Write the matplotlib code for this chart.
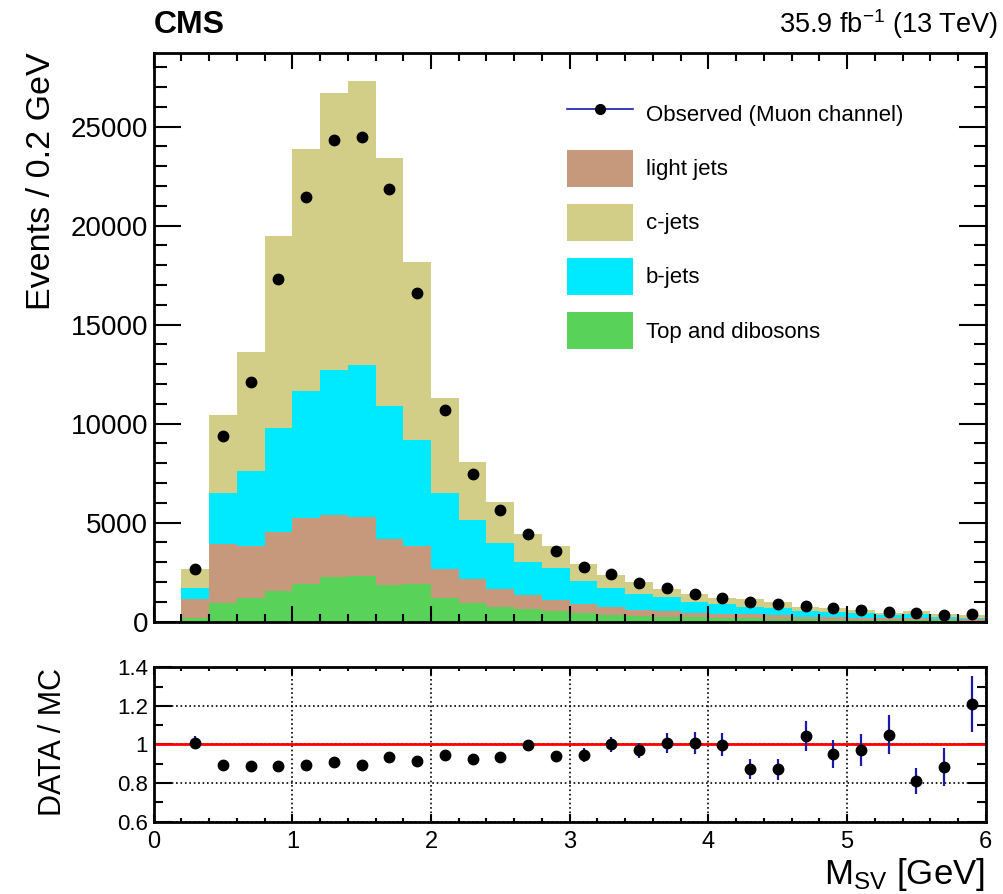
import numpy as np
import matplotlib
matplotlib.use("Agg")
import matplotlib.pyplot as plt
from matplotlib.ticker import MultipleLocator, FuncFormatter
from matplotlib.patches import Patch
from matplotlib.lines import Line2D

plt.rcParams['font.family'] = ['Liberation Sans', 'DejaVu Sans']
plt.rcParams['mathtext.fontset'] = 'custom'
plt.rcParams['mathtext.rm'] = 'Liberation Sans'
plt.rcParams['mathtext.it'] = 'Liberation Sans:italic'

# bin edges of M_SV [GeV]
edges = [0.2, 0.4, 0.6, 0.8, 1.0, 1.2, 1.4, 1.6, 1.8, 2.0, 2.2, 2.4, 2.6, 2.8, 3.0,
         3.2, 3.4, 3.6, 3.8, 4.0, 4.2, 4.4, 4.6, 4.8, 5.0, 5.2, 5.4, 5.6, 5.8, 6.0]
centers = [0.3, 0.5, 0.7, 0.9, 1.1, 1.3, 1.5, 1.7, 1.9, 2.1, 2.3, 2.5, 2.7, 2.9, 3.1,
           3.3, 3.5, 3.7, 3.9, 4.1, 4.3, 4.5, 4.7, 4.9, 5.1, 5.3, 5.5, 5.7, 5.9]

# stacked MC components (events / 0.2 GeV), bottom to top
top_dibosons = [202, 929, 1197, 1550, 1904, 2241, 2308, 1853, 1887, 1197, 944, 757, 641, 540,
                421, 337, 286, 252, 219, 185, 168, 151, 118, 101, 84, 84, 67, 67, 50]
light_jets = [929, 3011, 2609, 2995, 3348, 3147, 2979, 2308, 1919, 1449, 1197, 894, 707, 556,
              488, 387, 303, 270, 235, 219, 202, 186, 134, 135, 101, 84, 101, 68, 68]
b_jets = [556, 2575, 3804, 5220, 6398, 7307, 7661, 6747, 5354, 3853, 2995, 2339, 1682, 1631,
          1127, 976, 808, 707, 539, 471, 370, 353, 270, 235, 236, 169, 202, 117, 67]
c_jets = [959, 3923, 6025, 9713, 12221, 14020, 14342, 12494, 9020, 4781, 2944, 2040, 1414, 1079,
          876, 656, 589, 437, 387, 337, 388, 320, 235, 236, 168, 117, 152, 118, 135]

observed = [2661, 9378, 12105, 17291, 21432, 24326, 24477, 21851, 16600, 10674, 7442, 5626, 4429, 3586,
            2760, 2390, 1969, 1717, 1380, 1195, 993, 909, 808, 673, 572, 505, 454, 353, 404]

ratio = [1.009, 0.896, 0.887, 0.887, 0.896, 0.910, 0.896, 0.934, 0.916, 0.946, 0.922, 0.934, 0.995, 0.939,
         0.946, 1.000, 0.969, 1.007, 1.007, 0.998, 0.875, 0.871, 1.042, 0.951, 0.970, 1.050, 0.812, 0.883, 1.209]
ratio_err = [0.035, 0.010, 0.010, 0.008, 0.007, 0.007, 0.007, 0.007, 0.008, 0.010, 0.012, 0.014, 0.016, 0.018,
             0.035, 0.040, 0.040, 0.050, 0.057, 0.060, 0.052, 0.055, 0.077, 0.074, 0.082, 0.100, 0.068, 0.096, 0.143]

components = [("Top and dibosons", top_dibosons, "#58d258"),
              ("light jets", light_jets, "#c6997c"),
              ("b-jets", b_jets, "#00eaff"),
              ("c-jets", c_jets, "#d2ce88")]

fig = plt.figure(figsize=(10.04, 8.94), dpi=100)
ax = fig.add_axes([0.153, 0.3046, 0.8289, 0.6358])
axr = fig.add_axes([0.153, 0.0809, 0.8289, 0.1728])

base = np.zeros(len(centers))
for name, vals, col in components:
    top = base + np.array(vals)
    ax.stairs(top, edges, baseline=base, fill=True, color=col, lw=0)
    base = top

ax.plot(centers, observed, 'o', color='black', ms=7.5, zorder=5)

ax.set_xlim(0, 6)
ax.set_ylim(0, 28700)
ax.xaxis.set_major_locator(MultipleLocator(1))
ax.xaxis.set_minor_locator(MultipleLocator(0.2))
ax.yaxis.set_major_locator(MultipleLocator(5000))
ax.yaxis.set_minor_locator(MultipleLocator(1000))
ax.tick_params(which='both', direction='in', top=True, right=True, width=1.5, labelbottom=False)
ax.tick_params(axis='x', which='major', length=11.5)
ax.tick_params(axis='x', which='minor', length=5.8)
ax.tick_params(axis='y', which='major', length=19.5, labelsize=20, pad=4)
ax.tick_params(axis='y', which='minor', length=9)
for s in ax.spines.values():
    s.set_linewidth(2)

handles = [Line2D([], [], color='#1a1aa8', marker='o', mfc='black', mec='black', ms=7, lw=1.2)]
labels = ["Observed (Muon channel)"]
for name, vals, col in [components[1], components[3], components[2], components[0]]:
    handles.append(Patch(facecolor=col, edgecolor='none'))
    labels.append(name)
ax.legend(handles, labels, loc='upper left', bbox_to_anchor=(0.497, 0.925), frameon=False,
          fontsize=16, handlelength=2.96, handleheight=2.18, labelspacing=0.77,
          handletextpad=0.58, borderpad=0, borderaxespad=0)

# ratio panel
axr.axhline(1, color='red', lw=2, zorder=2.2)
axr.errorbar(centers, ratio, yerr=ratio_err, fmt='o', color='black', ms=7.5,
             ecolor='#1a1aa8', elinewidth=1.6, capsize=0, zorder=5)
axr.set_xlim(0, 6)
axr.set_ylim(0.6, 1.4)
axr.xaxis.set_major_locator(MultipleLocator(1))
axr.xaxis.set_minor_locator(MultipleLocator(0.2))
axr.yaxis.set_major_locator(MultipleLocator(0.2))
axr.yaxis.set_minor_locator(MultipleLocator(0.1))
axr.yaxis.set_major_formatter(FuncFormatter(lambda v, p: f'{v:g}'))
axr.grid(True, which='major', ls=':', color='black', lw=1.2)
axr.tick_params(which='both', direction='in', top=True, right=True, width=1.5)
axr.tick_params(axis='x', which='major', length=6, labelsize=17, pad=7)
axr.tick_params(axis='x', which='minor', length=3)
axr.tick_params(axis='y', which='major', length=13, labelsize=16, pad=4)
axr.tick_params(axis='y', which='minor', length=6.5)
for s in axr.spines.values():
    s.set_linewidth(2)

# texts
fig.text(0.153, 1 - 33 / 894, "CMS", fontsize=23, fontweight='bold', ha='left', va='baseline')
fig.text(998 / 1004, 1 - 33 / 894, "35.9 fb$^{-1}$ (13 TeV)", fontsize=19.5, ha='right', va='baseline')
fig.text(42 / 1004, 1 - 52 / 894, "Events / 0.2 GeV", fontsize=24.5, rotation=90, ha='center', va='top')
fig.text(53 / 1004, 1 - 742 / 894, "DATA / MC", fontsize=22, rotation=90, ha='center', va='center')
fig.text(985 / 1004, 1 - 884 / 894, "M$_{\\mathrm{SV}}$ [GeV]", fontsize=25, ha='right', va='baseline')

fig.savefig("out.png", dpi=100)
